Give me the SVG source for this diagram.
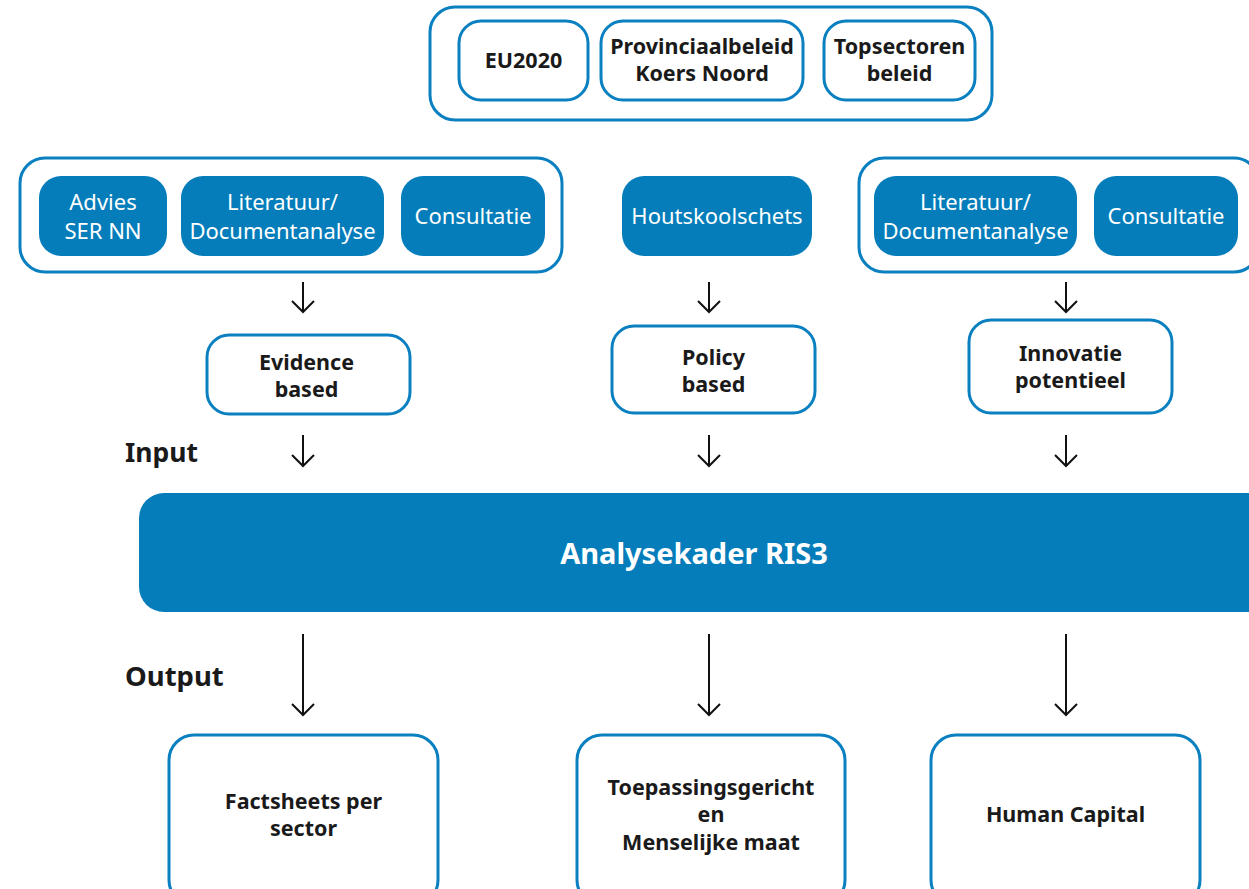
<svg xmlns="http://www.w3.org/2000/svg" width="1249" height="889" viewBox="0 0 1249 889">
<style>
.c{fill:#fff;stroke:#0b80c0;stroke-width:3}
.f{fill:#047dba}
.t{font-family:"Noto Sans","Open Sans",sans-serif;font-weight:bold;font-size:21.5px;fill:#1a1a1a;text-anchor:middle}
.w{font-family:"Noto Sans","Open Sans",sans-serif;font-size:22px;fill:#fff;text-anchor:middle}
.a{fill:none;stroke:#111;stroke-width:2}
</style>
<rect width="1249" height="889" fill="#fff"/>
<g id="top-group">
<rect class="c" x="430" y="7" width="562" height="113" rx="25"/>
</g>
<g id="eu2020"><rect class="c" x="459" y="21" width="129" height="79" rx="22"/><text class="t" x="523.5" y="68">EU2020</text></g>
<g id="provinciaal"><rect class="c" x="601" y="21" width="202" height="79" rx="22"/><text class="t" x="702" y="54">Provinciaalbeleid</text><text class="t" x="702" y="81">Koers Noord</text></g>
<g id="topsectoren"><rect class="c" x="824" y="21" width="151" height="79" rx="22"/><text class="t" x="899.5" y="54">Topsectoren</text><text class="t" x="899.5" y="81">beleid</text></g>
<g id="left-group"><rect class="c" x="20" y="158" width="542" height="114" rx="25"/></g>
<g id="advies"><rect class="f" x="39" y="176" width="128" height="80" rx="22"/><text class="w" x="103" y="210">Advies</text><text class="w" x="103" y="239">SER NN</text></g>
<g id="literatuur1"><rect class="f" x="181" y="176" width="203" height="80" rx="22"/><text class="w" x="282.5" y="210">Literatuur/</text><text class="w" x="282.5" y="239">Documentanalyse</text></g>
<g id="consultatie1"><rect class="f" x="401" y="176" width="144" height="80" rx="22"/><text class="w" x="473" y="224">Consultatie</text></g>
<g id="houtskoolschets"><rect class="f" x="622" y="176" width="190" height="80" rx="22"/><text class="w" x="717" y="224">Houtskoolschets</text></g>
<g id="right-group"><rect class="c" x="859" y="158" width="400" height="114" rx="25"/></g>
<g id="literatuur2"><rect class="f" x="874" y="176" width="203" height="80" rx="22"/><text class="w" x="975.5" y="210">Literatuur/</text><text class="w" x="975.5" y="239">Documentanalyse</text></g>
<g id="consultatie2"><rect class="f" x="1094" y="176" width="144" height="80" rx="22"/><text class="w" x="1166" y="224">Consultatie</text></g>
<g id="evidence"><rect class="c" x="207" y="335" width="203" height="79" rx="22"/><text class="t" x="306.5" y="370">Evidence</text><text class="t" x="306.5" y="397">based</text></g>
<g id="policy"><rect class="c" x="612" y="326" width="203" height="87" rx="22"/><text class="t" x="713.5" y="365">Policy</text><text class="t" x="713.5" y="392">based</text></g>
<g id="innovatie"><rect class="c" x="969" y="320" width="203" height="93" rx="22"/><text class="t" x="1070.5" y="361">Innovatie</text><text class="t" x="1070.5" y="388">potentieel</text></g>
<g id="input-label"><text class="t" x="125" y="462" style="text-anchor:start;font-size:26.5px">Input</text></g>
<g id="output-label"><text class="t" x="125" y="686" style="text-anchor:start;font-size:27.5px">Output</text></g>
<g id="analysekader"><rect class="f" x="139" y="493" width="1135" height="119" rx="25"/><text x="694" y="564" style="font-family:'Noto Sans','Open Sans',sans-serif;font-weight:bold;font-size:29px;fill:#fff;text-anchor:middle">Analysekader RIS3</text></g>
<g id="factsheets"><rect class="c" x="169" y="735" width="269" height="170" rx="25"/><text class="t" x="303.5" y="809">Factsheets per</text><text class="t" x="303.5" y="836">sector</text></g>
<g id="toepassing"><rect class="c" x="577" y="735" width="268" height="170" rx="25"/><text class="t" x="711" y="795">Toepassingsgericht</text><text class="t" x="711" y="822">en</text><text class="t" x="711" y="850">Menselijke maat</text></g>
<g id="humancapital"><rect class="c" x="931" y="735" width="269" height="170" rx="25"/><text class="t" x="1065.5" y="822">Human Capital</text></g>
<g id="connectors">
<path class="a" d="M303 282V312M292 301L303 312L314 301"/>
<path class="a" d="M709 282V312M698 301L709 312L720 301"/>
<path class="a" d="M1066 282V312M1055 301L1066 312L1077 301"/>
<path class="a" d="M303 435V466M292 455L303 466L314 455"/>
<path class="a" d="M709 435V466M698 455L709 466L720 455"/>
<path class="a" d="M1066 435V466M1055 455L1066 466L1077 455"/>
<path class="a" d="M303 634V715M292 704L303 715L314 704"/>
<path class="a" d="M709 634V715M698 704L709 715L720 704"/>
<path class="a" d="M1066 634V715M1055 704L1066 715L1077 704"/>
</g>
</svg>
